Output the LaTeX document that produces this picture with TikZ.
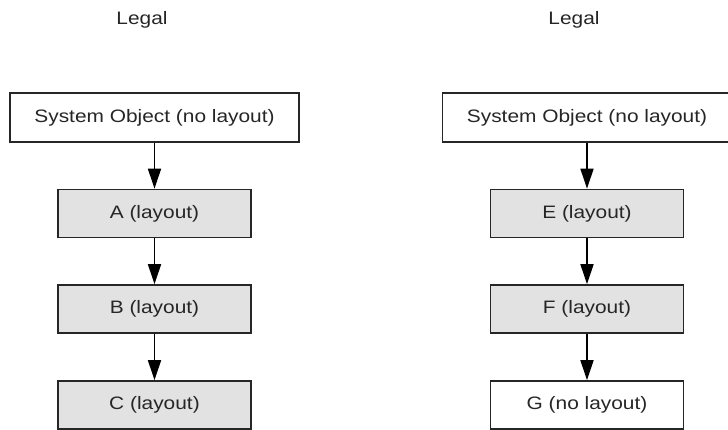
\documentclass[tikz,border=0pt]{standalone}
\usepackage{fontspec}
\setmainfont{Liberation Sans}[FakeStretch=1.16]
\usetikzlibrary{arrows.meta}

\definecolor{boxgray}{HTML}{E2E2E2}
\definecolor{edgegray}{HTML}{262626}

\begin{document}
\begin{tikzpicture}[
    x=1pt, y=-1pt,
    font=\fontsize{18}{20}\selectfont,
    plainbox/.style={draw=edgegray, line width=1.7pt, fill=white, inner sep=0pt,
        minimum height=48pt, text=black!85},
    sysbox/.style={plainbox, minimum width=289pt, minimum height=49pt},
    laybox/.style={plainbox, minimum width=193pt},
    grayfill/.style={fill=boxgray},
    flow/.style={-{Triangle[length=20pt,width=13pt]}, line width=1.7pt, draw=black}
]

    % frame of the page
    \useasboundingbox (0,0) rectangle (728,430);

    % Left column
    \node[anchor=base, text=black!85] (legalL) at (142,25) {Legal};
    \node[sysbox] (sysL) at (154.5,117.5) {System Object (no layout)};
    \node[laybox, grayfill] (nodeA) at (154.5,213.5) {A (layout)};
    \node[laybox, grayfill] (nodeB) at (154.5,309) {B (layout)};
    \node[laybox, grayfill] (nodeC) at (154.5,405) {C (layout)};

    \draw[flow] (sysL) -- (nodeA);
    \draw[flow] (nodeA) -- (nodeB);
    \draw[flow] (nodeB) -- (nodeC);

    % Right column
    \node[anchor=base, text=black!85] (legalR) at (574,25) {Legal};
    \node[sysbox] (sysR) at (587,117.5) {System Object (no layout)};
    \node[laybox, grayfill] (nodeE) at (587,213.5) {E (layout)};
    \node[laybox, grayfill] (nodeF) at (587,309) {F (layout)};
    \node[laybox] (nodeG) at (587,405) {G (no layout)};

    \draw[flow] (sysR) -- (nodeE);
    \draw[flow] (nodeE) -- (nodeF);
    \draw[flow] (nodeF) -- (nodeG);

\end{tikzpicture}
\end{document}
